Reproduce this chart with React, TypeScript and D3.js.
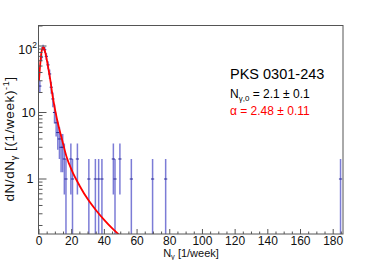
import React, { useRef, useEffect } from 'react';
import * as d3 from 'd3';

// weekly photon counts: lower edge of each 1-week bin and how many weeks fell in it
const binLow = [0, 1, 2, 3, 4, 5, 6, 7, 8, 9, 10, 11, 12, 13, 14, 15, 16, 19, 20, 23, 30, 34, 36, 38, 45, 46, 49, 56, 69, 77, 184];
const binCount = [25, 68, 95, 88, 70, 52, 38, 24, 16, 10, 7, 5, 4, 3, 3, 2, 1, 2, 1, 2, 1, 1, 1, 1, 2, 1, 2, 1, 1, 1, 1];

// fitted curve
const fitN = [0, 0.5, 1, 1.5, 2, 2.5, 3, 3.5, 4, 5, 6, 7, 8, 10, 12, 14, 17, 20, 25, 30, 35, 40, 45, 49];
const fitV = [30, 45, 62, 80, 91, 95, 93, 86, 77, 58, 42, 30, 20, 10.5, 6.2, 4.0, 2.1, 1.36, 0.78, 0.49, 0.336, 0.241, 0.179, 0.145];

const xTicks = [0, 20, 40, 60, 80, 100, 120, 140, 160, 180];
const yTicks = [1, 10, 100];

const sourceName = 'PKS 0301-243';
const n0Text = '= 2.1 \u00b1 0.1';
const alphaText = '\u03b1 = 2.48 \u00b1 0.11';

export default function App() {
  const ref = useRef<SVGSVGElement>(null);

  useEffect(() => {
    if (!ref.current) return;
    const svg = d3.select(ref.current);
    svg.selectAll('*').remove();

    const left = 38.5, right = 343, top = 25.5, bottom = 234;
    const font = '"Liberation Sans", Arial, sans-serif';

    const x = d3.scaleLinear().domain([0, 186]).range([39, right]);
    const y = d3.scaleLog().domain([0.149, 207]).range([bottom, 25]);

    svg.append('rect').attr('width', 382).attr('height', 260).attr('fill', '#fff');

    svg.append('defs').append('clipPath').attr('id', 'frame-clip')
      .append('rect').attr('x', left).attr('y', top).attr('width', right - left).attr('height', bottom - top);

    const plot = svg.append('g').attr('clip-path', 'url(#frame-clip)');

    // error bars
    const bins = binLow.map((n, i) => ({ n, c: binCount[i] }));
    plot.selectAll('.err')
      .data(bins)
      .enter()
      .append('line')
      .attr('class', 'err')
      .attr('x1', d => x(d.n + 0.5))
      .attr('x2', d => x(d.n + 0.5))
      .attr('y1', d => y(d.c + Math.sqrt(d.c)))
      .attr('y2', d => (d.c - Math.sqrt(d.c) > 0.149 ? y(d.c - Math.sqrt(d.c)) : bottom + 2))
      .attr('stroke', '#5050c8')
      .attr('stroke-opacity', 0.75)
      .attr('stroke-width', 1.5);

    plot.selectAll('.val')
      .data(bins)
      .enter()
      .append('line')
      .attr('class', 'val')
      .attr('x1', d => x(d.n + 0.5) - 1.6)
      .attr('x2', d => x(d.n + 0.5) + 1.6)
      .attr('y1', d => y(d.c))
      .attr('y2', d => y(d.c))
      .attr('stroke', '#2a2a99')
      .attr('stroke-width', 1);

    // fit
    const line = d3.line<number>()
      .x((_, i) => x(fitN[i]))
      .y(d => y(d))
      .curve(d3.curveMonotoneX);

    plot.append('path')
      .datum(fitV)
      .attr('fill', 'none')
      .attr('stroke', '#ff0000')
      .attr('stroke-width', 1.8)
      .attr('d', line);

    // frame
    svg.append('rect')
      .attr('x', left).attr('y', top)
      .attr('width', right - left).attr('height', bottom - top)
      .attr('fill', 'none').attr('stroke', '#555').attr('stroke-width', 1);

    // x ticks
    const xMinor = d3.range(0, 186, 5);
    svg.selectAll('.xt')
      .data(xMinor)
      .enter()
      .append('line')
      .attr('x1', d => x(d)).attr('x2', d => x(d))
      .attr('y1', bottom)
      .attr('y2', d => (d % 20 === 0 ? bottom - 5 : bottom - 2.5))
      .attr('stroke', '#555');

    svg.selectAll('.xl')
      .data(xTicks)
      .enter()
      .append('text')
      .attr('x', d => x(d))
      .attr('y', 244.5)
      .attr('text-anchor', 'middle')
      .attr('font-family', font)
      .attr('font-size', 12)
      .attr('fill', '#111')
      .text(d => d);

    // y ticks (log)
    const yMinor: number[] = [];
    [0.1, 1, 10, 100].forEach(dec => {
      for (let k = 1; k < 10; k++) {
        const v = dec * k;
        if (v >= 0.149 && v <= 207) yMinor.push(v);
      }
    });
    svg.selectAll('.yt')
      .data(yMinor)
      .enter()
      .append('line')
      .attr('x1', left)
      .attr('x2', d => (yTicks.includes(Math.round(d * 1000) / 1000) ? left + 8 : left + 4))
      .attr('y1', d => y(d)).attr('y2', d => y(d))
      .attr('stroke', '#555');

    yTicks.forEach(v => {
      const t = svg.append('text')
        .attr('y', y(v) + (v === 100 ? 7.5 : 4.3))
        .attr('text-anchor', 'end')
        .attr('font-family', font)
        .attr('font-size', 12.5)
        .attr('fill', '#111');
      if (v === 100) {
        t.attr('x', 37);
        t.append('tspan').text('10');
        t.append('tspan').attr('dy', -6).attr('font-size', 8.5).text('2');
      } else {
        t.attr('x', v === 1 ? 33.5 : 35.5).text(v);
      }
    });

    // axis titles
    const xt = svg.append('text')
      .attr('x', 191).attr('y', 257)
      .attr('text-anchor', 'middle')
      .attr('font-family', font)
      .attr('font-size', 11)
      .attr('fill', '#111');
    xt.append('tspan').text('N');
    xt.append('tspan').attr('dy', 1.5).attr('font-size', 7.5).text('\u03b3');
    xt.append('tspan').attr('dy', -1.5).text('  [1/week]');

    const yt = svg.append('text')
      .attr('transform', 'translate(14,139) rotate(-90)')
      .attr('text-anchor', 'middle')
      .attr('font-family', font)
      .attr('font-size', 13.5)
      .attr('letter-spacing', 0.6)
      .attr('fill', '#111');
    yt.append('tspan').text('dN/dN');
    yt.append('tspan').attr('dy', 3).attr('font-size', 9).text('\u03b3');
    yt.append('tspan').attr('dy', -3).text('  [(1/week)');
    yt.append('tspan').attr('dy', -5).attr('font-size', 9).text('-1');
    yt.append('tspan').attr('dy', 5).text(']');

    // annotations
    svg.append('text')
      .attr('x', 230).attr('y', 79)
      .attr('font-family', font).attr('font-size', 14.5).attr('fill', '#000')
      .text(sourceName);

    const n0 = svg.append('text')
      .attr('x', 230).attr('y', 97.5)
      .attr('font-family', font).attr('font-size', 12).attr('fill', '#000');
    n0.append('tspan').text('N');
    n0.append('tspan').attr('dy', 3).attr('font-size', 8).text('\u03b3,0');
    n0.append('tspan').attr('dy', -3).text(' ' + n0Text);

    svg.append('text')
      .attr('x', 230).attr('y', 115)
      .attr('font-family', font).attr('font-size', 12).attr('fill', '#ff0000')
      .text(alphaText);
  }, []);

  return (
    <svg
      ref={ref}
      width={382}
      height={260}
      style={{ position: 'absolute', left: 0, top: 0 }}
    />
  );
}
